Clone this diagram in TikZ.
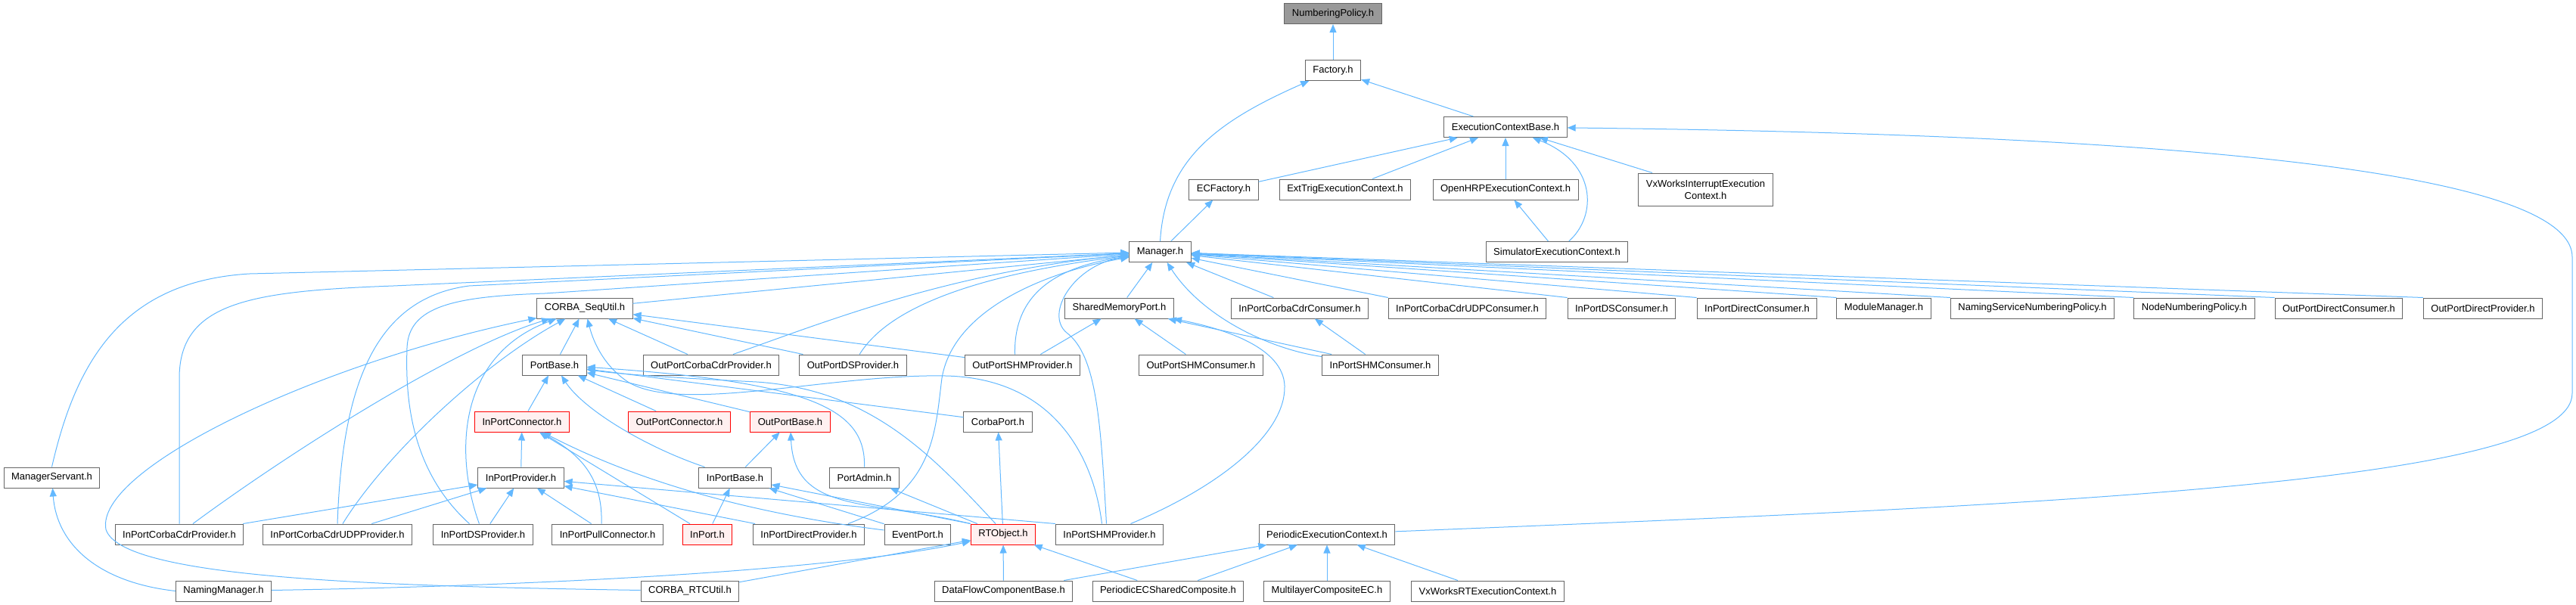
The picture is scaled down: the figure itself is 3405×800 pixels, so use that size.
\documentclass[tikz,border=0pt]{standalone}
\usepackage{fontspec}
\newfontfamily\hdrfont{Liberation Sans}
\usetikzlibrary{arrows.meta}
\definecolor{edgeblue}{HTML}{63B8FF}
\definecolor{boxgrey}{HTML}{666666}
\definecolor{rootgrey}{HTML}{999999}
\definecolor{redfill}{HTML}{FFF0F0}
\tikzset{hdr/.style={draw=boxgrey, fill=white, line width=1pt, minimum height=27pt, inner xsep=10pt, inner ysep=0pt, font=\hdrfont\fontsize{13}{16}\selectfont}}
\tikzset{hdrred/.style={hdr, draw=red, fill=redfill}}
\tikzset{hdrroot/.style={hdr, fill=rootgrey}}
\tikzset{inc/.style={color=edgeblue, line width=1pt, -{Triangle[length=11pt,width=9pt]}}}

\begin{document}
\begin{tikzpicture}[x=1pt, y=-1pt]
	\useasboundingbox (0,0) rectangle (3405,800);
	% top rows
	\node[hdrroot] (np) at (1762,18) {NumberingPolicy.h};
	\node[hdr] (fac) at (1762,93) {Factory.h};
	\node[hdr] (ecb) at (1990,168) {ExecutionContextBase.h};
	\node[hdr] (ecfac) at (1617.5,250.5) {ECFactory.h};
	\node[hdr] (ext) at (1778,250.5) {ExtTrigExecutionContext.h};
	\node[hdr] (ohrp) at (1990,250.5) {OpenHRPExecutionContext.h};
	\node[hdr, align=center, minimum height=43pt] (vxi) at (2254.5,250.5) {VxWorksInterruptExecution\\Context.h};
	\node[hdr] (sim) at (2058,333) {SimulatorExecutionContext.h};
	\node[hdr] (mgr) at (1533.5,333) {Manager.h};
	
	\node[hdr] (cseq) at (773,407.5) {CORBA\_SeqUtil.h};
	\node[hdr] (smp) at (1479.5,407.5) {SharedMemoryPort.h};
	\node[hdr] (ipcc) at (1718,407.5) {InPortCorbaCdrConsumer.h};
	\node[hdr] (ipcudpc) at (1939.5,407.5) {InPortCorbaCdrUDPConsumer.h};
	\node[hdr] (ipdsc) at (2143.5,407.5) {InPortDSConsumer.h};
	\node[hdr] (ipdirc) at (2322.5,407.5) {InPortDirectConsumer.h};
	\node[hdr] (modm) at (2490,407.5) {ModuleManager.h};
	\node[hdr] (nsnp) at (2686.5,407.5) {NamingServiceNumberingPolicy.h};
	\node[hdr] (nnp) at (2900.5,407.5) {NodeNumberingPolicy.h};
	\node[hdr] (opdc) at (3091.5,407.5) {OutPortDirectConsumer.h};
	\node[hdr] (opdp) at (3282,407.5) {OutPortDirectProvider.h};
	
	\node[hdr] (pb) at (733,482.5) {PortBase.h};
	\node[hdr] (opccp) at (940,482.5) {OutPortCorbaCdrProvider.h};
	\node[hdr] (opdsp) at (1127.5,482.5) {OutPortDSProvider.h};
	\node[hdr] (opshmp) at (1351.5,482.5) {OutPortSHMProvider.h};
	\node[hdr] (opshmc) at (1587.5,482.5) {OutPortSHMConsumer.h};
	\node[hdr] (ipshmc) at (1824.5,482.5) {InPortSHMConsumer.h};
	
	\node[hdrred] (ipc) at (690,557.5) {InPortConnector.h};
	\node[hdrred] (opc) at (898,557.5) {OutPortConnector.h};
	\node[hdrred] (opb) at (1044.5,557.5) {OutPortBase.h};
	\node[hdr] (cp) at (1319,557.5) {CorbaPort.h};
	
	\node[hdr] (ms) at (68.5,631.5) {ManagerServant.h};
	\node[hdr] (ipp) at (688.5,631.5) {InPortProvider.h};
	\node[hdr] (ipb) at (971.5,631.5) {InPortBase.h};
	\node[hdr] (pa) at (1142.5,631.5) {PortAdmin.h};
	
	\node[hdr] (ipccp) at (237,706.5) {InPortCorbaCdrProvider.h};
	\node[hdr] (ipcudp) at (446,706.5) {InPortCorbaCdrUDPProvider.h};
	\node[hdr] (ipdsp) at (638.5,706.5) {InPortDSProvider.h};
	\node[hdr] (ippc) at (803,706.5) {InPortPullConnector.h};
	\node[hdrred] (inport) at (935,706.5) {InPort.h};
	\node[hdr] (ipdirp) at (1069,706.5) {InPortDirectProvider.h};
	\node[hdr] (evp) at (1213,706.5) {EventPort.h};
	\node[hdrred] (rtobj) at (1326,706.5) {RTObject.h};
	\node[hdr] (ipshmp) at (1466.5,706.5) {InPortSHMProvider.h};
	\node[hdr] (pec) at (1754,706.5) {PeriodicExecutionContext.h};
	
	\node[hdr] (nm) at (295.5,781.5) {NamingManager.h};
	\node[hdr] (rtcu) at (912,781.5) {CORBA\_RTCUtil.h};
	\node[hdr] (dfcb) at (1326.5,781.5) {DataFlowComponentBase.h};
	\node[hdr] (pecsc) at (1544,781.5) {PeriodicECSharedComposite.h};
	\node[hdr] (mlc) at (1754,781.5) {MultilayerCompositeEC.h};
	\node[hdr] (vxrt) at (1966.5,781.5) {VxWorksRTExecutionContext.h};
	
	\begin{scope}[inc]
		% execution contexts
		\draw (fac) -- (np);
		\draw (mgr.north) .. controls (1540,210) and (1610,160) .. (fac);
		\draw (ecb) -- (fac);
		\draw (ecfac) -- (ecb);
		\draw (ext) -- (ecb);
		\draw (ohrp) -- (ecb);
		\draw (vxi) -- (ecb);
		\draw (sim) .. controls (2112,285) and (2110,215) .. (ecb);
		\draw (sim) -- (ohrp);
		\draw (pec) .. controls (2700,668) and (3400,640) .. (3400,520) -- (3400,340) .. controls (3400,200) and (2600,175) .. (ecb);
		\draw (mgr) -- (ecfac);
		\draw (dfcb) -- (pec);
		\draw (pecsc) -- (pec);
		\draw (mlc) -- (pec);
		\draw (vxrt) -- (pec);
		
		% Manager.h
		\draw (ms.north) .. controls (100,480) and (160,372) .. (330,362) -- (mgr);
		\draw (ipccp.north) -- (237,500) .. controls (237,400) and (330,385) .. (520,378) -- (mgr);
		\draw (ipcudp.north) .. controls (452,520) and (490,395) .. (620,378) -- (mgr);
		\draw ([xshift=-18pt]ipdsp.north) .. controls (540,620) and (536,520) .. (538,460) .. controls (540,405) and (600,392) .. (720,388) -- (mgr);
		\draw (cseq) -- (mgr);
		\draw ([xshift=29pt]opccp.north) .. controls (1080,430) and (1250,360) .. (mgr);
		\draw (opdsp) .. controls (1160,430) and (1230,370) .. (mgr);
		\draw ([xshift=-10pt]opshmp.north) .. controls (1340,400) and (1380,355) .. (mgr);
		\draw ([xshift=52pt]ipdirp.north) .. controls (1236,650) and (1236,570) .. (1245,500) .. controls (1260,410) and (1380,360) .. (mgr);
		\draw ([xshift=-4pt]ipshmp.north) .. controls (1455,560) and (1450,470) .. (1410,440) .. controls (1380,415) and (1420,350) .. (mgr);
		\draw (smp) -- (mgr);
		\draw (ipshmc) .. controls (1680,462) and (1590,420) .. (mgr);
		\draw (ipcc) -- (mgr);
		\foreach \n in {ipcudpc,ipdsc,ipdirc,modm,nsnp,nnp,opdc,opdp}
			\draw (\n.north west) -- (mgr);
		
		% CORBA_SeqUtil.h
		\draw ([xshift=18pt]ipccp.north) .. controls (380,600) and (600,460) .. (cseq);
		\draw ([xshift=7pt]ipcudp.north) .. controls (510,600) and (640,480) .. (cseq);
		\draw (ipdsp) .. controls (600,600) and (605,470) .. (cseq);
		\draw (rtcu) .. controls (500,775) and (160,765) .. (140,700) .. controls (125,620) and (420,480) .. (cseq);
		\draw (pb) -- (cseq);
		\draw (opccp) -- (cseq);
		\draw (opdsp) -- (cseq);
		\draw (opshmp) -- (cseq);
		\draw ([xshift=-10pt]ipshmp.north) .. controls (1445,600) and (1390,500) .. (1250,497) .. controls (1100,494) and (900,548) .. (830,505) .. controls (800,485) and (785,455) .. (cseq);
		
		% ports
		\draw (ipc) -- (pb);
		\draw ([xshift=-40pt]ipb.north) .. controls (850,590) and (770,540) .. (pb);
		\draw (opc) -- (pb);
		\draw (opb) -- (pb);
		\draw (cp) -- (pb);
		\draw (pa.north) .. controls (1145,540) and (1070,505) .. (pb);
		\draw ([xshift=-10pt]rtobj.north) .. controls (1230,600) and (1150,515) .. (1000,505) .. controls (900,500) and (820,495) .. (pb);
		\draw (ipb) -- (opb);
		\draw (rtobj.north west) .. controls (1150,660) and (1050,680) .. (opb);
		\draw (ipp) -- (ipc);
		\draw ([xshift=-8pt]ippc.north) .. controls (797,630) and (765,600) .. (ipc);
		\draw (inport) -- (ipc);
		\draw (evp) .. controls (1000,680) and (850,640) .. (ipc);
		\draw (ipccp) -- (ipp);
		\draw (ipcudp) -- (ipp);
		\draw (ipdsp) -- (ipp);
		\draw (ippc) -- (ipp);
		\draw (ipdirp) -- (ipp);
		\draw (ipshmp.north west) -- (ipp);
		\draw (inport) -- (ipb);
		\draw (evp) -- (ipb);
		\draw (rtobj.north west) -- (ipb);
		\draw (rtobj) -- (pa);
		\draw (rtobj) -- (cp);
		
		% RTObject.h and shared memory
		\draw (nm) .. controls (700,775) and (1100,755) .. (rtobj);
		\draw (rtcu) -- (rtobj);
		\draw (dfcb) -- (rtobj);
		\draw (pecsc) -- (rtobj);
		\draw (nm.west) .. controls (130,770) and (75,720) .. (ms);
		\draw (opshmp) -- (smp);
		\draw (opshmc) -- (smp);
		\draw (ipshmc) -- (smp);
		\draw ([xshift=28pt]ipshmp.north) .. controls (1620,640) and (1700,570) .. (1698,510) .. controls (1696,460) and (1620,435) .. (smp);
		\draw (ipshmc) -- (ipcc);
	\end{scope}
\end{tikzpicture}
\end{document}
